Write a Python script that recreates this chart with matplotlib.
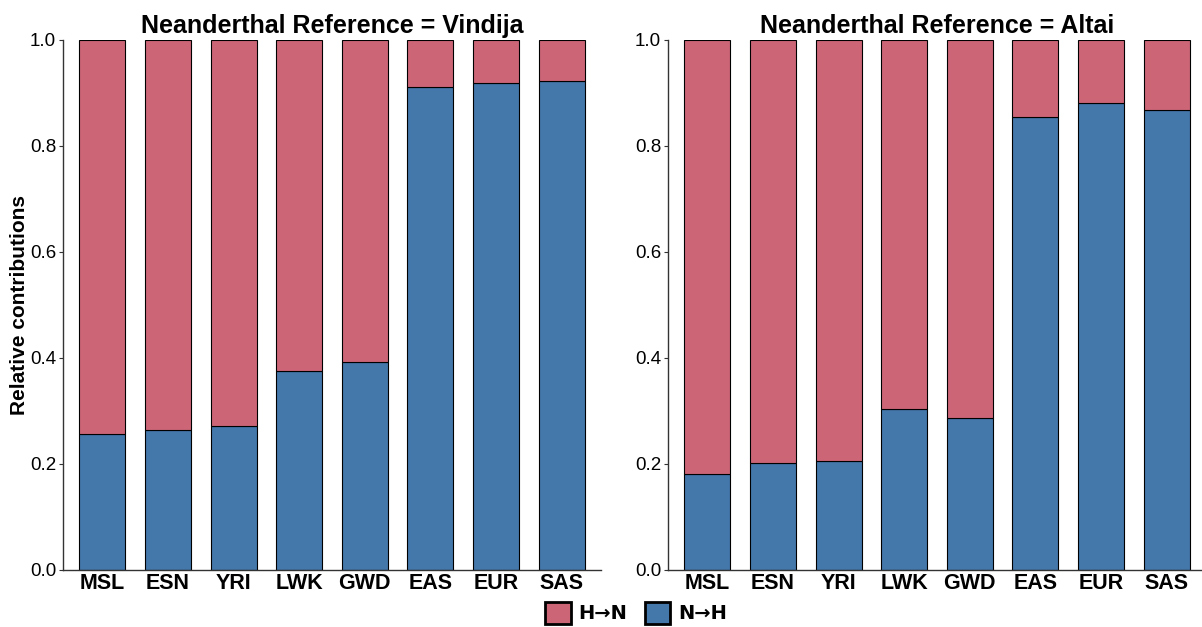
import numpy as np
import matplotlib
matplotlib.use("Agg")
import matplotlib.pyplot as plt
from matplotlib.patches import Patch

plt.rcParams["font.family"] = ["Liberation Sans", "DejaVu Sans"]

populations = ["MSL", "ESN", "YRI", "LWK", "GWD", "EAS", "EUR", "SAS"]
# N->H share; H->N is the remainder up to 1
vindija_nh = [0.257, 0.264, 0.272, 0.376, 0.393, 0.911, 0.919, 0.923]
altai_nh = [0.181, 0.202, 0.206, 0.304, 0.286, 0.855, 0.881, 0.868]

col_hn = "#CC6677"
col_nh = "#4477AA"

W, H = 1202, 627
fig = plt.figure(figsize=(W / 100, H / 100), dpi=100)

y0, y1 = 570, 40
panels = [
    ("Neanderthal Reference = Vindija", vindija_nh, 63, 601),
    ("Neanderthal Reference = Altai", altai_nh, 668, 1206),
]

for i, (title, nh, xl, xr) in enumerate(panels):
    ax = fig.add_axes([xl / W, (H - y0) / H, (xr - xl) / W, (y0 - y1) / H])
    x = np.arange(len(populations))
    nh = np.array(nh)
    ax.bar(x, nh, width=0.7, color=col_nh, edgecolor="black", linewidth=0.8)
    ax.bar(x, 1 - nh, bottom=nh, width=0.7, color=col_hn, edgecolor="black", linewidth=0.8)
    ax.set_xlim(-0.6, len(populations) - 0.4)
    ax.set_ylim(0, 1)
    ax.set_xticks(x)
    ax.set_xticklabels(populations, fontsize=15.5, fontweight="bold")
    ax.set_yticks(np.arange(0, 1.01, 0.2))
    ax.set_yticklabels([f"{v:.1f}" for v in np.arange(0, 1.01, 0.2)], fontsize=13.5)
    ax.tick_params(axis="x", length=0, pad=2)
    ax.tick_params(axis="y", length=3, width=0.8, color="#333333", pad=2)
    for s in ["top", "right"]:
        ax.spines[s].set_visible(False)
    for s in ["left", "bottom"]:
        ax.spines[s].set_color("#333333")
        ax.spines[s].set_linewidth(1.0)
    ax.set_title(title, fontsize=18, fontweight="bold", pad=5)
    if i == 0:
        ax.set_ylabel("Relative contributions", fontsize=15, fontweight="bold")
        ax.yaxis.set_label_coords(-34 / (xr - xl), 0.5)

handles = [
    Patch(facecolor=col_hn, edgecolor="black", linewidth=2, label="H→N"),
    Patch(facecolor=col_nh, edgecolor="black", linewidth=2, label="N→H"),
]
fig.legend(handles=handles, loc="center", bbox_to_anchor=(636 / W, 1 - 613 / H),
           ncol=2, frameon=False,
           prop={"weight": "bold", "size": 14, "family": "DejaVu Sans"},
           handlelength=1.3, handleheight=1.4, handletextpad=0.4, columnspacing=0.9)

fig.savefig("out.png", dpi=100)
